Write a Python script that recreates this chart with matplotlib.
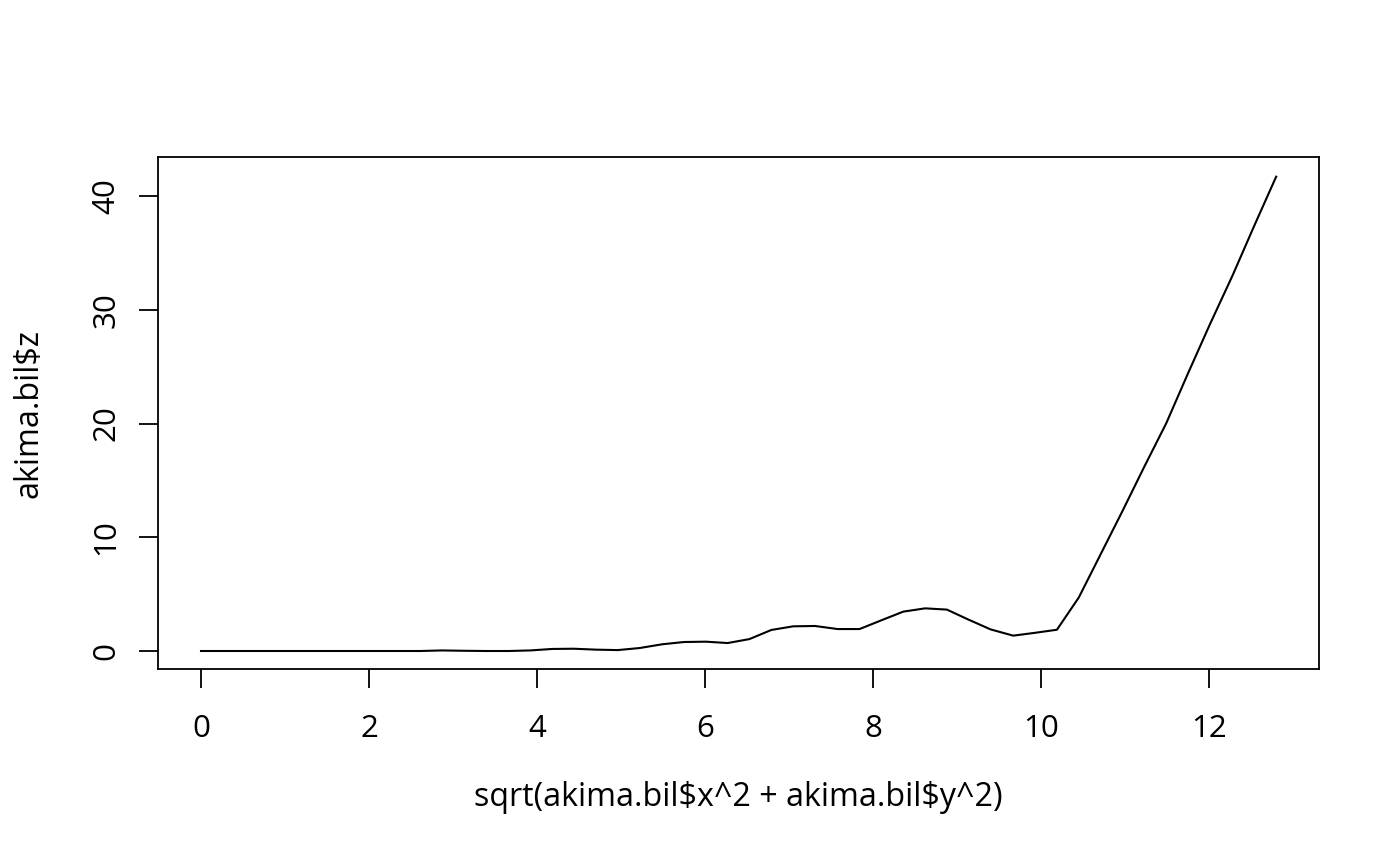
import matplotlib
matplotlib.use("Agg")
import matplotlib.pyplot as plt

# distance from origin
dist = [0.00, 0.26, 0.52, 0.78, 1.04, 1.31, 1.57, 1.83, 2.09, 2.35,
        2.61, 2.87, 3.13, 3.40, 3.66, 3.92, 4.18, 4.44, 4.70, 4.96,
        5.22, 5.49, 5.75, 6.01, 6.27, 6.53, 6.79, 7.05, 7.31, 7.58,
        7.84, 8.10, 8.36, 8.62, 8.88, 9.14, 9.40, 9.67, 9.93, 10.19,
        10.45, 10.71, 10.97, 11.23, 11.49, 11.75, 12.01, 12.28, 12.54, 12.80]

# interpolated z values
z = [0.00, 0.00, 0.00, 0.00, 0.00, 0.00, 0.00, 0.00, 0.00, 0.00,
     0.00, 0.05, 0.02, 0.00, 0.00, 0.05, 0.18, 0.20, 0.12, 0.08,
     0.26, 0.59, 0.79, 0.82, 0.70, 1.05, 1.85, 2.17, 2.20, 1.93,
     1.93, 2.70, 3.46, 3.75, 3.64, 2.75, 1.90, 1.35, 1.60, 1.87,
     4.70, 8.50, 12.30, 16.20, 20.00, 24.40, 28.70, 33.00, 37.40, 41.70]

x_ticks = [0, 2, 4, 6, 8, 10, 12]
y_ticks = [0, 10, 20, 30, 40]

plt.rcParams['font.family'] = ['Open Sans', 'DejaVu Sans']
plt.rcParams['text.parse_math'] = False  # keep the $ signs literal

fig = plt.figure(figsize=(14, 8.66), dpi=100)
ax = fig.add_axes([158 / 1400, 1 - 669 / 866, (1319 - 158) / 1400, (669 - 157) / 866])

ax.plot(dist, z, color='black', lw=1.5)  # the profile line

ax.set_xlim(-0.512, 13.31)
ax.set_ylim(-1.582, 43.43)
ax.set_xticks(x_ticks)
ax.set_yticks(y_ticks)
ax.set_xticklabels([str(t) for t in x_ticks])
ax.set_yticklabels([str(t) for t in y_ticks], rotation=90, va='center')

ax.tick_params(direction='out', length=13.7, width=1.3, labelsize=22.5)
ax.tick_params(axis='x', pad=19)
ax.tick_params(axis='y', pad=12.6)
for s in ax.spines.values():
    s.set_linewidth(1.3)

ax.set_xlabel('sqrt(akima.bil$x^2 + akima.bil$y^2)', fontsize=23.2, labelpad=26)
ax.set_ylabel('akima.bil$z', fontsize=23.2, labelpad=33)

fig.savefig('out.png', dpi=100)
